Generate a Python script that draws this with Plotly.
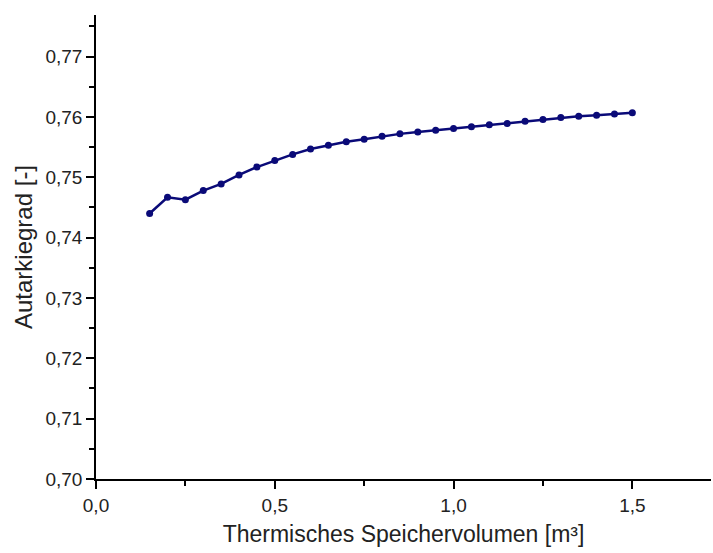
import plotly.graph_objects as go

# Thermal storage volume [m³] and resulting self-sufficiency ratio
speichervolumen = [0.15, 0.20, 0.25, 0.30, 0.35, 0.40, 0.45, 0.50, 0.55, 0.60,
                   0.65, 0.70, 0.75, 0.80, 0.85, 0.90, 0.95, 1.00, 1.05, 1.10,
                   1.15, 1.20, 1.25, 1.30, 1.35, 1.40, 1.45, 1.50]
autarkiegrad = [0.7440, 0.7467, 0.7463, 0.7478, 0.7489, 0.7504, 0.7517, 0.7528,
                0.7538, 0.7547, 0.7553, 0.7559, 0.7563, 0.7568, 0.7572, 0.7575,
                0.7578, 0.7581, 0.7584, 0.7587, 0.7589, 0.7593, 0.7596, 0.7599,
                0.7601, 0.7603, 0.7605, 0.7607]

x_ticks = [0.0, 0.5, 1.0, 1.5]
y_ticks = [0.70, 0.71, 0.72, 0.73, 0.74, 0.75, 0.76, 0.77]

fig = go.Figure(go.Scatter(
    x=speichervolumen, y=autarkiegrad, mode="lines+markers",
    line=dict(color="#0a0a78", width=2.5),
    marker=dict(color="#0a0a78", size=7),
))

fam = "Liberation Sans, Arial, sans-serif"
axis_font = dict(family=fam, size=19, color="#222")

fig.update_layout(
    width=713, height=553,
    margin=dict(l=96, r=2, t=15, b=74),
    plot_bgcolor="white", paper_bgcolor="white",
    separators=",.",
    showlegend=False,
    xaxis=dict(
        range=[0, 1.72], tickvals=x_ticks, tickformat=".1f",
        showgrid=False, zeroline=False,
        showline=True, linecolor="black", linewidth=1.5,
        ticks="outside", ticklen=8, tickwidth=1.5, tickcolor="black",
        minor=dict(ticks="outside", ticklen=5, tickwidth=1.5, tickcolor="black", dtick=0.25, showgrid=False),
        tickfont=axis_font,
        title=dict(text="Thermisches Speichervolumen [m³]", font=dict(family=fam, size=23, color="#222"), standoff=11),
    ),
    yaxis=dict(
        range=[0.70, 0.7769], tickvals=y_ticks, tickformat=".2f",
        showgrid=False, zeroline=False,
        showline=True, linecolor="black", linewidth=1.5,
        ticks="outside", ticklen=8, tickwidth=1.5, tickcolor="black",
        minor=dict(ticks="outside", ticklen=5, tickwidth=1.5, tickcolor="black", dtick=0.005, showgrid=False),
        tickfont=axis_font,
        title=dict(text="Autarkiegrad [-]", font=dict(family=fam, size=24, color="#222"), standoff=6),
    ),
)

fig.write_html("out.html")
